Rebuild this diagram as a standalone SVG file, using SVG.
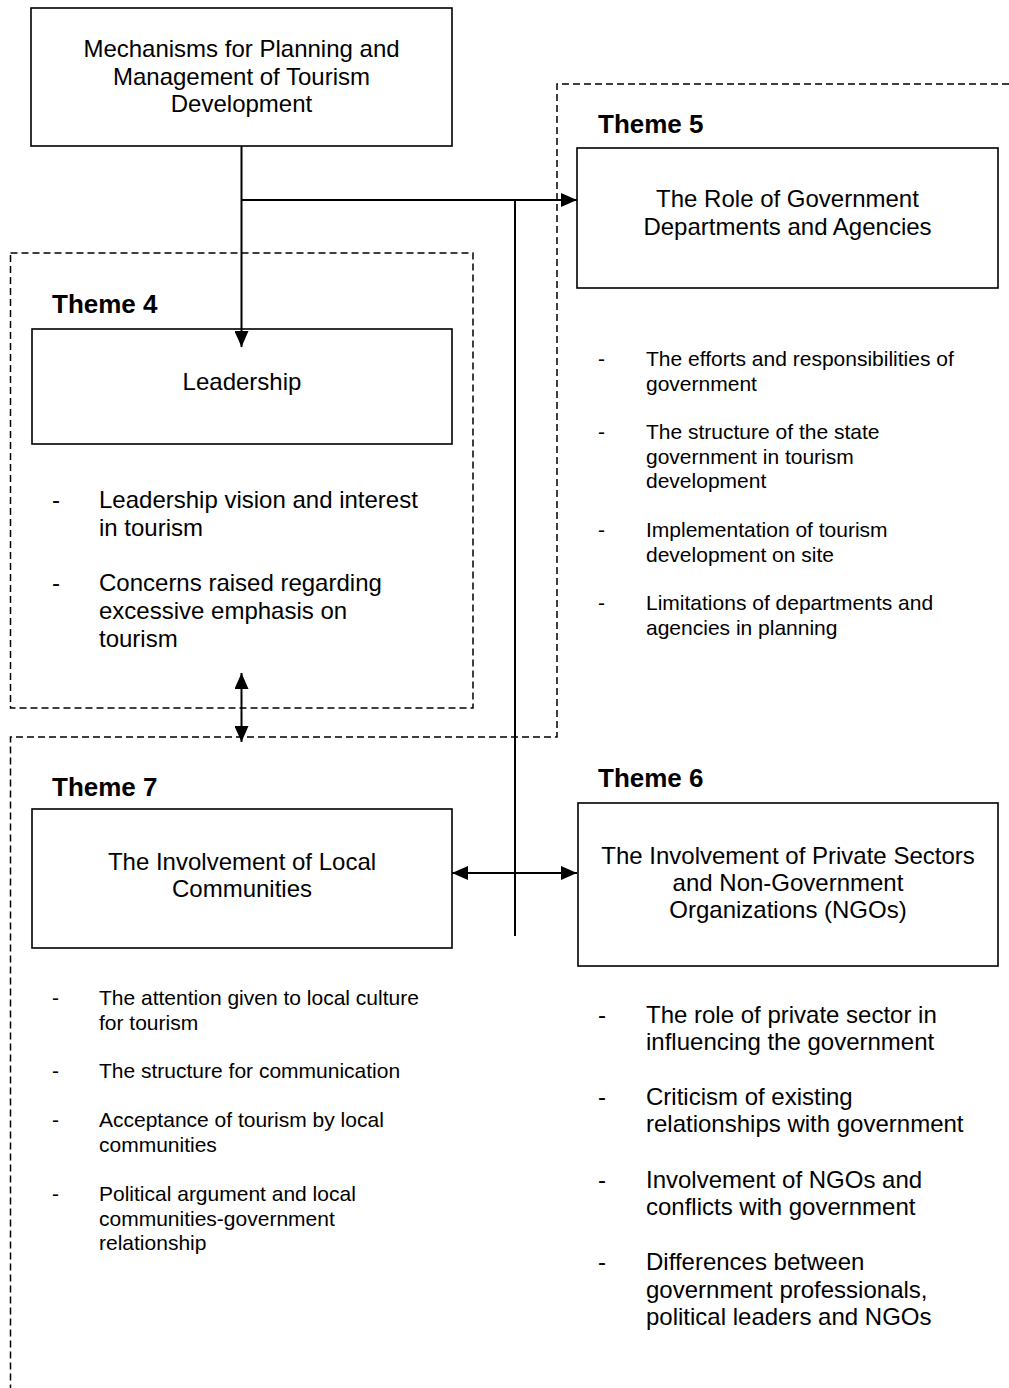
<svg xmlns="http://www.w3.org/2000/svg" width="1009" height="1388" viewBox="0 0 1009 1388">
  <style>
    .box { fill: #ffffff; stroke: #000000; stroke-width: 1.6; }
    .dash { fill: none; stroke: #000000; stroke-width: 1.5; stroke-dasharray: 7 4; }
    .conn { fill: none; stroke: #000000; stroke-width: 2; }
    .t { font-family: "Liberation Sans", Arial, sans-serif; fill: #000000; }
    .title { font-size: 24px; text-anchor: middle; }
    .theme { font-size: 26px; font-weight: bold; }
    .b24 { font-size: 24px; }
    .b21 { font-size: 21px; }
  </style>
  <defs>
    <marker id="ah" viewBox="0 0 16 14" markerWidth="16" markerHeight="14" refX="16" refY="7" markerUnits="userSpaceOnUse" orient="auto-start-reverse">
      <path d="M0,0 L16,7 L0,14 z" fill="#000000"/>
    </marker>
  </defs>
  <rect width="1009" height="1388" fill="#ffffff"/>

  <g id="regions">
    <rect id="theme4-region" class="dash" x="10.5" y="253" width="462.5" height="455"/>
    <polyline id="theme5-theme7-region" class="dash" points="1009,84 557,84 557,737 10.5,737 10.5,1388"/>
  </g>

  <g id="mechanisms">
    <rect class="box" x="31" y="8" width="421" height="138"/>
    <text class="t title" x="241.5" y="57">Mechanisms for Planning and</text>
    <text class="t title" x="241.5" y="84.5">Management of Tourism</text>
    <text class="t title" x="241.5" y="112">Development</text>
  </g>

  <g id="theme5">
    <text class="t theme" x="598" y="133">Theme 5</text>
    <rect class="box" x="577" y="148" width="421" height="140"/>
    <text class="t title" x="787.5" y="207">The Role of Government</text>
    <text class="t title" x="787.5" y="235">Departments and Agencies</text>
    <g class="t b21">
      <text x="598" y="366">-</text>
      <text x="646" y="366">The efforts and responsibilities of</text>
      <text x="646" y="390.5">government</text>
      <text x="598" y="439">-</text>
      <text x="646" y="439">The structure of the state</text>
      <text x="646" y="463.5">government in tourism</text>
      <text x="646" y="488">development</text>
      <text x="598" y="537">-</text>
      <text x="646" y="537">Implementation of tourism</text>
      <text x="646" y="561.5">development on site</text>
      <text x="598" y="610">-</text>
      <text x="646" y="610">Limitations of departments and</text>
      <text x="646" y="634.5">agencies in planning</text>
    </g>
  </g>

  <g id="theme4">
    <text class="t theme" x="52" y="313">Theme 4</text>
    <rect class="box" x="32" y="329" width="420" height="115"/>
    <text class="t title" x="242" y="390">Leadership</text>
    <g class="t b24">
      <text x="52" y="508">-</text>
      <text x="99" y="508">Leadership vision and interest</text>
      <text x="99" y="536">in tourism</text>
      <text x="52" y="591">-</text>
      <text x="99" y="591">Concerns raised regarding</text>
      <text x="99" y="619">excessive emphasis on</text>
      <text x="99" y="646.5">tourism</text>
    </g>
  </g>

  <g id="theme7">
    <text class="t theme" x="52" y="796">Theme 7</text>
    <rect class="box" x="32" y="809" width="420" height="139"/>
    <text class="t title" x="242" y="870">The Involvement of Local</text>
    <text class="t title" x="242" y="897">Communities</text>
    <g class="t b21">
      <text x="52" y="1005">-</text>
      <text x="99" y="1005">The attention given to local culture</text>
      <text x="99" y="1029.5">for tourism</text>
      <text x="52" y="1078">-</text>
      <text x="99" y="1078">The structure for communication</text>
      <text x="52" y="1127">-</text>
      <text x="99" y="1127">Acceptance of tourism by local</text>
      <text x="99" y="1151.5">communities</text>
      <text x="52" y="1201">-</text>
      <text x="99" y="1201">Political argument and local</text>
      <text x="99" y="1225.5">communities-government</text>
      <text x="99" y="1250">relationship</text>
    </g>
  </g>

  <g id="theme6">
    <text class="t theme" x="598" y="787">Theme 6</text>
    <rect class="box" x="578" y="803" width="420" height="163"/>
    <text class="t title" x="788" y="864">The Involvement of Private Sectors</text>
    <text class="t title" x="788" y="891">and Non-Government</text>
    <text class="t title" x="788" y="918">Organizations (NGOs)</text>
    <g class="t b24">
      <text x="598" y="1023">-</text>
      <text x="646" y="1023">The role of private sector in</text>
      <text x="646" y="1050">influencing the government</text>
      <text x="598" y="1105">-</text>
      <text x="646" y="1105">Criticism of existing</text>
      <text x="646" y="1132">relationships with government</text>
      <text x="598" y="1188">-</text>
      <text x="646" y="1188">Involvement of NGOs and</text>
      <text x="646" y="1215">conflicts with government</text>
      <text x="598" y="1270">-</text>
      <text x="646" y="1270">Differences between</text>
      <text x="646" y="1297.5">government professionals,</text>
      <text x="646" y="1325">political leaders and NGOs</text>
    </g>
  </g>

  <g id="connectors">
    <line class="conn" x1="241.5" y1="146" x2="241.5" y2="347" marker-end="url(#ah)"/>
    <line class="conn" x1="241.5" y1="200" x2="577" y2="200" marker-end="url(#ah)"/>
    <line class="conn" x1="515" y1="200" x2="515" y2="936"/>
    <line class="conn" x1="241.5" y1="673" x2="241.5" y2="742" marker-start="url(#ah)" marker-end="url(#ah)"/>
    <line class="conn" x1="452" y1="873" x2="577" y2="873" marker-start="url(#ah)" marker-end="url(#ah)"/>
  </g>
</svg>
